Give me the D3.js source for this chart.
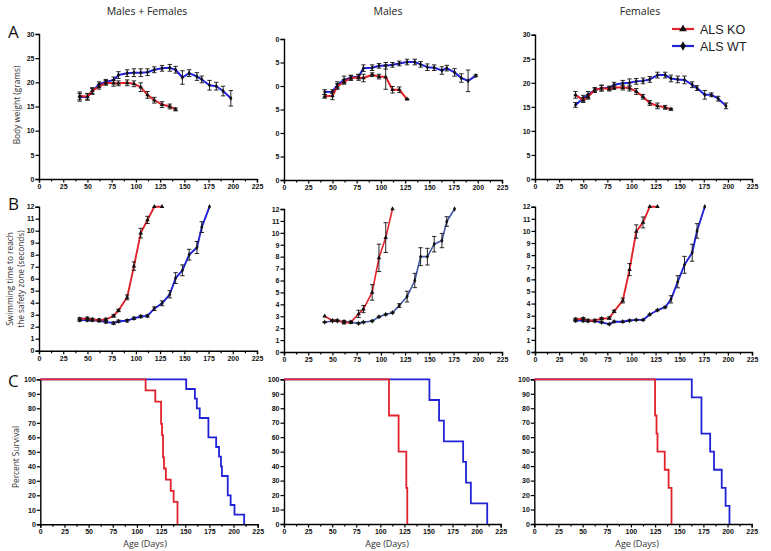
<!DOCTYPE html>
<html><head><meta charset="utf-8">
<script src="https://cdn.jsdelivr.net/npm/d3@7"></script>
<style>
html,body{margin:0;padding:0;background:#fff;}
svg{display:block;}
.tick text{font-family:"Liberation Sans",Arial,sans-serif;font-weight:bold;font-size:7px;fill:#111;}
</style></head>
<body>
<script>
// ---------- DATA ----------
const columnTitles = ["Males + Females", "Males", "Females"];
const rowLetters = ["A", "B", "C"];
const seriesNames = ["ALS KO", "ALS WT"];
const xTickValues = [0, 25, 50, 75, 100, 125, 150, 175, 200, 225];
const weightTicks = [0, 5, 10, 15, 20, 25, 30];
const swimTicks = [0,1,2,3,4,5,6,7,8,9,10,11,12];
const survivalTicks = [0,10,20,30,40,50,60,70,80,90,100];

// measurement days (age, days)
const days = [42,50,55,62,69,77,82,91,98,105,112,119,127,135,141,148,155,163,168,176,183,190,198];

// A: body weight (grams), mean and SEM
const wtAllWT  = [16.9,17.0,18.1,19.6,20.1,20.5,21.5,21.9,22.0,22.0,22.1,22.6,22.9,23.0,22.6,21.0,21.9,21.2,20.6,19.4,19.2,18.2,16.7];
const wtAllWTe = [0.8,0.6,0.6,0.5,0.5,0.6,0.7,0.7,0.8,0.8,0.7,0.6,0.6,0.7,0.7,1.4,0.7,0.8,0.7,1.0,0.8,1.0,1.6];
const wtAllKO  = [17.2,17.0,18.3,19.1,19.9,19.8,19.8,19.9,19.7,19.0,17.4,16.3,15.4,15.0,14.4];
const wtAllKOe = [0.8,0.7,0.6,0.5,0.5,0.6,0.5,0.6,0.6,0.9,0.7,0.6,0.6,0.5,0.3];

const wtMaleWT  = [18.7,18.8,20.2,21.3,21.8,22.0,23.8,23.9,24.3,24.3,24.5,24.8,25.1,25.1,24.6,24.0,23.9,23.3,23.8,22.9,21.7,21.1,22.2];
const wtMaleWTe = [0.5,0.4,0.7,0.8,0.5,0.5,0.7,0.6,0.5,0.7,0.5,0.5,0.6,0.6,0.6,0.7,0.6,0.8,0.6,0.8,0.9,2.3,0.2];
const wtMaleKO  = [17.8,17.9,19.9,20.9,21.7,21.8,21.7,22.4,22.0,21.9,19.2,19.2,17.2];
const wtMaleKOe = [0.4,0.8,0.6,0.5,0.5,0.6,0.8,0.4,0.5,2.6,0.7,0.6,0.1];

const wtFemWT  = [15.4,16.8,17.5,18.5,18.9,18.9,19.6,19.9,20.0,20.3,20.4,20.7,21.6,21.6,20.9,20.7,20.6,19.6,18.9,17.5,17.5,16.7,15.2];
const wtFemWTe = [0.5,0.6,0.7,0.5,0.6,0.4,0.5,0.6,0.8,0.6,0.6,0.6,0.6,0.6,0.7,0.7,0.8,0.6,0.5,0.9,0.4,0.5,0.6];
const wtFemKO  = [17.5,16.4,17.1,18.5,18.9,18.7,19.0,19.0,18.9,18.2,17.1,15.8,15.2,14.9,14.5];
const wtFemKOe = [0.7,0.5,0.5,0.4,0.6,0.4,0.4,0.5,0.6,0.6,0.5,0.5,0.6,0.4,0.2];

// B: swimming time (seconds), mean and SEM
const swAllWT  = [2.55,2.55,2.55,2.5,2.4,2.3,2.45,2.5,2.7,2.85,2.9,3.5,3.95,4.7,6.05,6.7,8.0,8.6,10.3,12.0];
const swAllWTe = [0.1,0.1,0.1,0.1,0.1,0.1,0.1,0.1,0.1,0.1,0.1,0.15,0.2,0.3,0.45,0.45,0.45,0.5,0.45,0];
const swAllKO  = [2.65,2.7,2.6,2.55,2.6,2.9,3.35,4.45,7.05,9.8,10.9,12.0,12.0];
const swAllKOe = [0.1,0.1,0.1,0.1,0.1,0.1,0.1,0.2,0.35,0.4,0.3,0,0];

const swMaleWT  = [2.5,2.6,2.6,2.55,2.5,2.4,2.5,2.6,2.95,3.15,3.3,3.9,4.65,6.0,8.0,8.0,9.05,9.35,10.95,12.0];
const swMaleWTe = [0.03,0.05,0.05,0.1,0.05,0.05,0.05,0.05,0.05,0.05,0.05,0.15,0.45,0.6,0.75,0.7,0.65,0.6,0.4,0];
const swMaleKO  = [3.0,2.65,2.65,2.45,2.5,3.2,3.6,5.0,7.9,9.6,12.0];
const swMaleKOe = [0,0.05,0.05,0.1,0.1,0.3,0.3,0.65,1.15,1.25,0];

const swFemWT  = [2.6,2.6,2.55,2.55,2.45,2.3,2.5,2.5,2.6,2.65,2.65,3.1,3.45,3.7,4.35,5.8,7.2,8.2,10.0,12.0];
const swFemWTe = [0.1,0.1,0.05,0.05,0.05,0.05,0.05,0.05,0.05,0.05,0.05,0.05,0.05,0.05,0.3,0.5,0.7,0.7,0.6,0];
const swFemKO  = [2.7,2.75,2.6,2.6,2.75,2.8,3.35,4.25,6.8,9.95,10.7,12.0,12.0];
const swFemKOe = [0.1,0.1,0.1,0.1,0.1,0.1,0.1,0.2,0.5,0.55,0.45,0,0];

// C: Kaplan-Meier survival steps (age of step, percent surviving after it)
const kmAllKOdays = [0,109,119,125,126,127,128,130,135,138,142];
const kmAllKOpct  = [100,92.3,84.6,69.2,61.5,46.2,38.5,30.8,23.1,15.4,0];
const kmAllWTdays = [0,151,160,162,165,174,182,185,187,188,194,197,201,211];
const kmAllWTpct  = [100,93.3,86.7,80,73.3,60,53.3,46.7,40,33.3,20,13.3,6.7,0];

const kmMaleKOdays = [0,109,119,127,128];
const kmMaleKOpct  = [100,75,50,25,0];
const kmMaleWTdays = [0,151,161,166,186,189,194,211];
const kmMaleWTpct  = [100,85.7,71.4,57.1,42.9,28.6,14.3,0];

const kmFemKOdays = [0,125,126.5,127.5,135,139,142];
const kmFemKOpct  = [100,75,62.5,50,37.5,25,0];
const kmFemWTdays = [0,163,173,182,186,194,198,202];
const kmFemWTpct  = [100,87.5,62.5,50,37.5,25,12.5,0];

// ---------- LAYOUT ----------
const W = 771, H = 551;
const RED = "#e3232b", BLUE = "#2222d6", SLATE = "#4358a6";
const svg = d3.select("body").append("svg").attr("width", W).attr("height", H)
  .style("font-family", "'Open Sans','Liberation Sans',Arial,sans-serif");

const colX = [[39, 257], [284, 502], [535, 752]];
const rowY = {
  A: [[179, 34], [180, 39], [179, 34.7]],
  B: [[350.7, 206.7], [352, 209], [352, 206.7]],
  C: [[524.3, 379.3], [524, 379.3], [524, 379.3]]
};
const cColX = [[40.3, 257.7], [284, 500.7], [534.3, 751.7]];

function drawAxes(g, x, y, yTicks, yFmt) {
  g.append("g").attr("transform", `translate(0,${y.range()[0]})`)
    .call(d3.axisBottom(x).tickValues(xTickValues).tickSize(3.5).tickPadding(1.5));
  const minor = xTickValues.slice(0, -1).map(v => v + 12.5);
  g.append("g").attr("transform", `translate(0,${y.range()[0]})`)
    .call(d3.axisBottom(x).tickValues(minor).tickSize(2.5).tickFormat(""))
    .call(s => s.select(".domain").remove());
  g.append("g").attr("transform", `translate(${x.range()[0]},0)`)
    .call(d3.axisLeft(y).tickValues(yTicks).tickSize(3.5).tickPadding(1).tickFormat(yFmt || (d => d)));
  g.selectAll(".domain").attr("stroke", "#000").attr("stroke-width", 1.4);
  g.selectAll(".tick line").attr("stroke", "#000").attr("stroke-width", 1.2);
}

function drawSeries(g, x, y, xs, ys, es, color, marker, lw) {
  const pts = ys.map((v, i) => [xs[i], v, es[i]]);
  g.append("path").datum(pts)
    .attr("fill", "none").attr("stroke", color).attr("stroke-width", lw)
    .attr("stroke-linejoin", "round")
    .attr("d", d3.line().x(d => x(d[0])).y(d => y(d[1])));
  const eb = g.append("g").attr("stroke", "#111").attr("stroke-width", 0.9);
  pts.filter(d => d[2] > 0).forEach(d => {
    const cx = x(d[0]), y1 = y(d[1] - d[2]), y2 = y(d[1] + d[2]);
    eb.append("line").attr("x1", cx).attr("x2", cx).attr("y1", y1).attr("y2", y2);
    eb.append("line").attr("x1", cx - 2.2).attr("x2", cx + 2.2).attr("y1", y1).attr("y2", y1);
    eb.append("line").attr("x1", cx - 2.2).attr("x2", cx + 2.2).attr("y1", y2).attr("y2", y2);
  });
  const sym = d3.symbol().type(marker === "tri" ? d3.symbolTriangle : d3.symbolDiamond).size(marker === "tri" ? 9 : 8);
  g.append("g").selectAll("path").data(pts).join("path")
    .attr("transform", d => `translate(${x(d[0])},${y(d[1])})`)
    .attr("d", sym).attr("fill", "#111");
}

function drawKM(g, x, y, ds, ps, color) {
  const pts = ds.map((d, i) => [d, ps[i]]);
  g.append("path").datum(pts)
    .attr("fill", "none").attr("stroke", color).attr("stroke-width", 1.8)
    .attr("d", d3.line().curve(d3.curveStepAfter).x(d => x(d[0])).y(d => y(d[1])));
}

// A row
const aData = [
  [wtAllWT, wtAllWTe, wtAllKO, wtAllKOe],
  [wtMaleWT, wtMaleWTe, wtMaleKO, wtMaleKOe],
  [wtFemWT, wtFemWTe, wtFemKO, wtFemKOe]
];
aData.forEach((dd, c) => {
  const g = svg.append("g");
  const x = d3.scaleLinear().domain([0, 225]).range(colX[c]);
  const y = d3.scaleLinear().domain([0, 30]).range(rowY.A[c]);
  drawAxes(g, x, y, weightTicks, c === 1 ? (d => String(d).slice(-1)) : null);
  drawSeries(g, x, y, days, dd[0], dd[1], BLUE, "dia", 2);
  drawSeries(g, x, y, days, dd[2], dd[3], RED, "tri", 2);
});

// B row
const bData = [
  [swAllWT, swAllWTe, swAllKO, swAllKOe, BLUE, 1.9],
  [swMaleWT, swMaleWTe, swMaleKO, swMaleKOe, SLATE, 1.6],
  [swFemWT, swFemWTe, swFemKO, swFemKOe, BLUE, 1.9]
];
bData.forEach((dd, c) => {
  const g = svg.append("g");
  const x = d3.scaleLinear().domain([0, 225]).range(colX[c]);
  const y = d3.scaleLinear().domain([0, 12]).range(rowY.B[c]);
  drawAxes(g, x, y, swimTicks);
  drawSeries(g, x, y, days, dd[0], dd[1], dd[4], "dia", dd[5]);
  drawSeries(g, x, y, days, dd[2], dd[3], RED, "tri", dd[5]);
});

// C row
const cData = [
  [kmAllWTdays, kmAllWTpct, kmAllKOdays, kmAllKOpct],
  [kmMaleWTdays, kmMaleWTpct, kmMaleKOdays, kmMaleKOpct],
  [kmFemWTdays, kmFemWTpct, kmFemKOdays, kmFemKOpct]
];
const ageX = [145, 387, 637];
cData.forEach((dd, c) => {
  const g = svg.append("g");
  const x = d3.scaleLinear().domain([0, 225]).range(cColX[c]);
  const y = d3.scaleLinear().domain([0, 100]).range(rowY.C[c]);
  drawAxes(g, x, y, survivalTicks);
  drawKM(g, x, y, dd[0], dd[1], BLUE);
  drawKM(g, x, y, dd[2], dd[3], RED);
  svg.append("text").attr("x", ageX[c]).attr("y", 547).attr("text-anchor", "middle")
    .attr("font-size", 9).attr("fill", "#333").text("Age (Days)");
});

// Column titles
const titleX = [147, 388, 640];
columnTitles.forEach((t, i) => svg.append("text").attr("x", titleX[i]).attr("y", 15)
  .attr("text-anchor", "middle").attr("font-size", 10.5).attr("fill", "#222").text(t));

// Row letters
const letterY = [38, 210, 387];
rowLetters.forEach((t, i) => svg.append("text").attr("x", 8).attr("y", letterY[i])
  .attr("font-size", 17).attr("fill", "#111").text(t));

// Y-axis titles
function vtext(x, y, t) {
  svg.append("text").attr("transform", `translate(${x},${y}) rotate(-90)`)
    .attr("text-anchor", "middle").attr("font-size", 8.3).attr("fill", "#333").text(t);
}
vtext(20, 105, "Body weight (grams)");
vtext(13, 279, "Swimming time to reach");
vtext(23.5, 279, "the safety zone (seconds)");
vtext(19, 457, "Percent Survival");

// Legend
const leg = svg.append("g");
[[RED, d3.symbolTriangle, 29], [BLUE, d3.symbolDiamond, 46]].forEach((L, i) => {
  leg.append("line").attr("x1", 672).attr("x2", 694).attr("y1", L[2]).attr("y2", L[2])
    .attr("stroke", L[0]).attr("stroke-width", 2.2);
  leg.append("path").attr("transform", `translate(683,${L[2]})`)
    .attr("d", d3.symbol().type(L[1]).size(26)).attr("fill", "#111");
  leg.append("text").attr("x", 700).attr("y", L[2] + 4.5).attr("font-size", 12.5)
    .attr("font-family", "'Liberation Sans',Arial,sans-serif").attr("fill", "#222").text(seriesNames[i]);
});
</script>
</body></html>
